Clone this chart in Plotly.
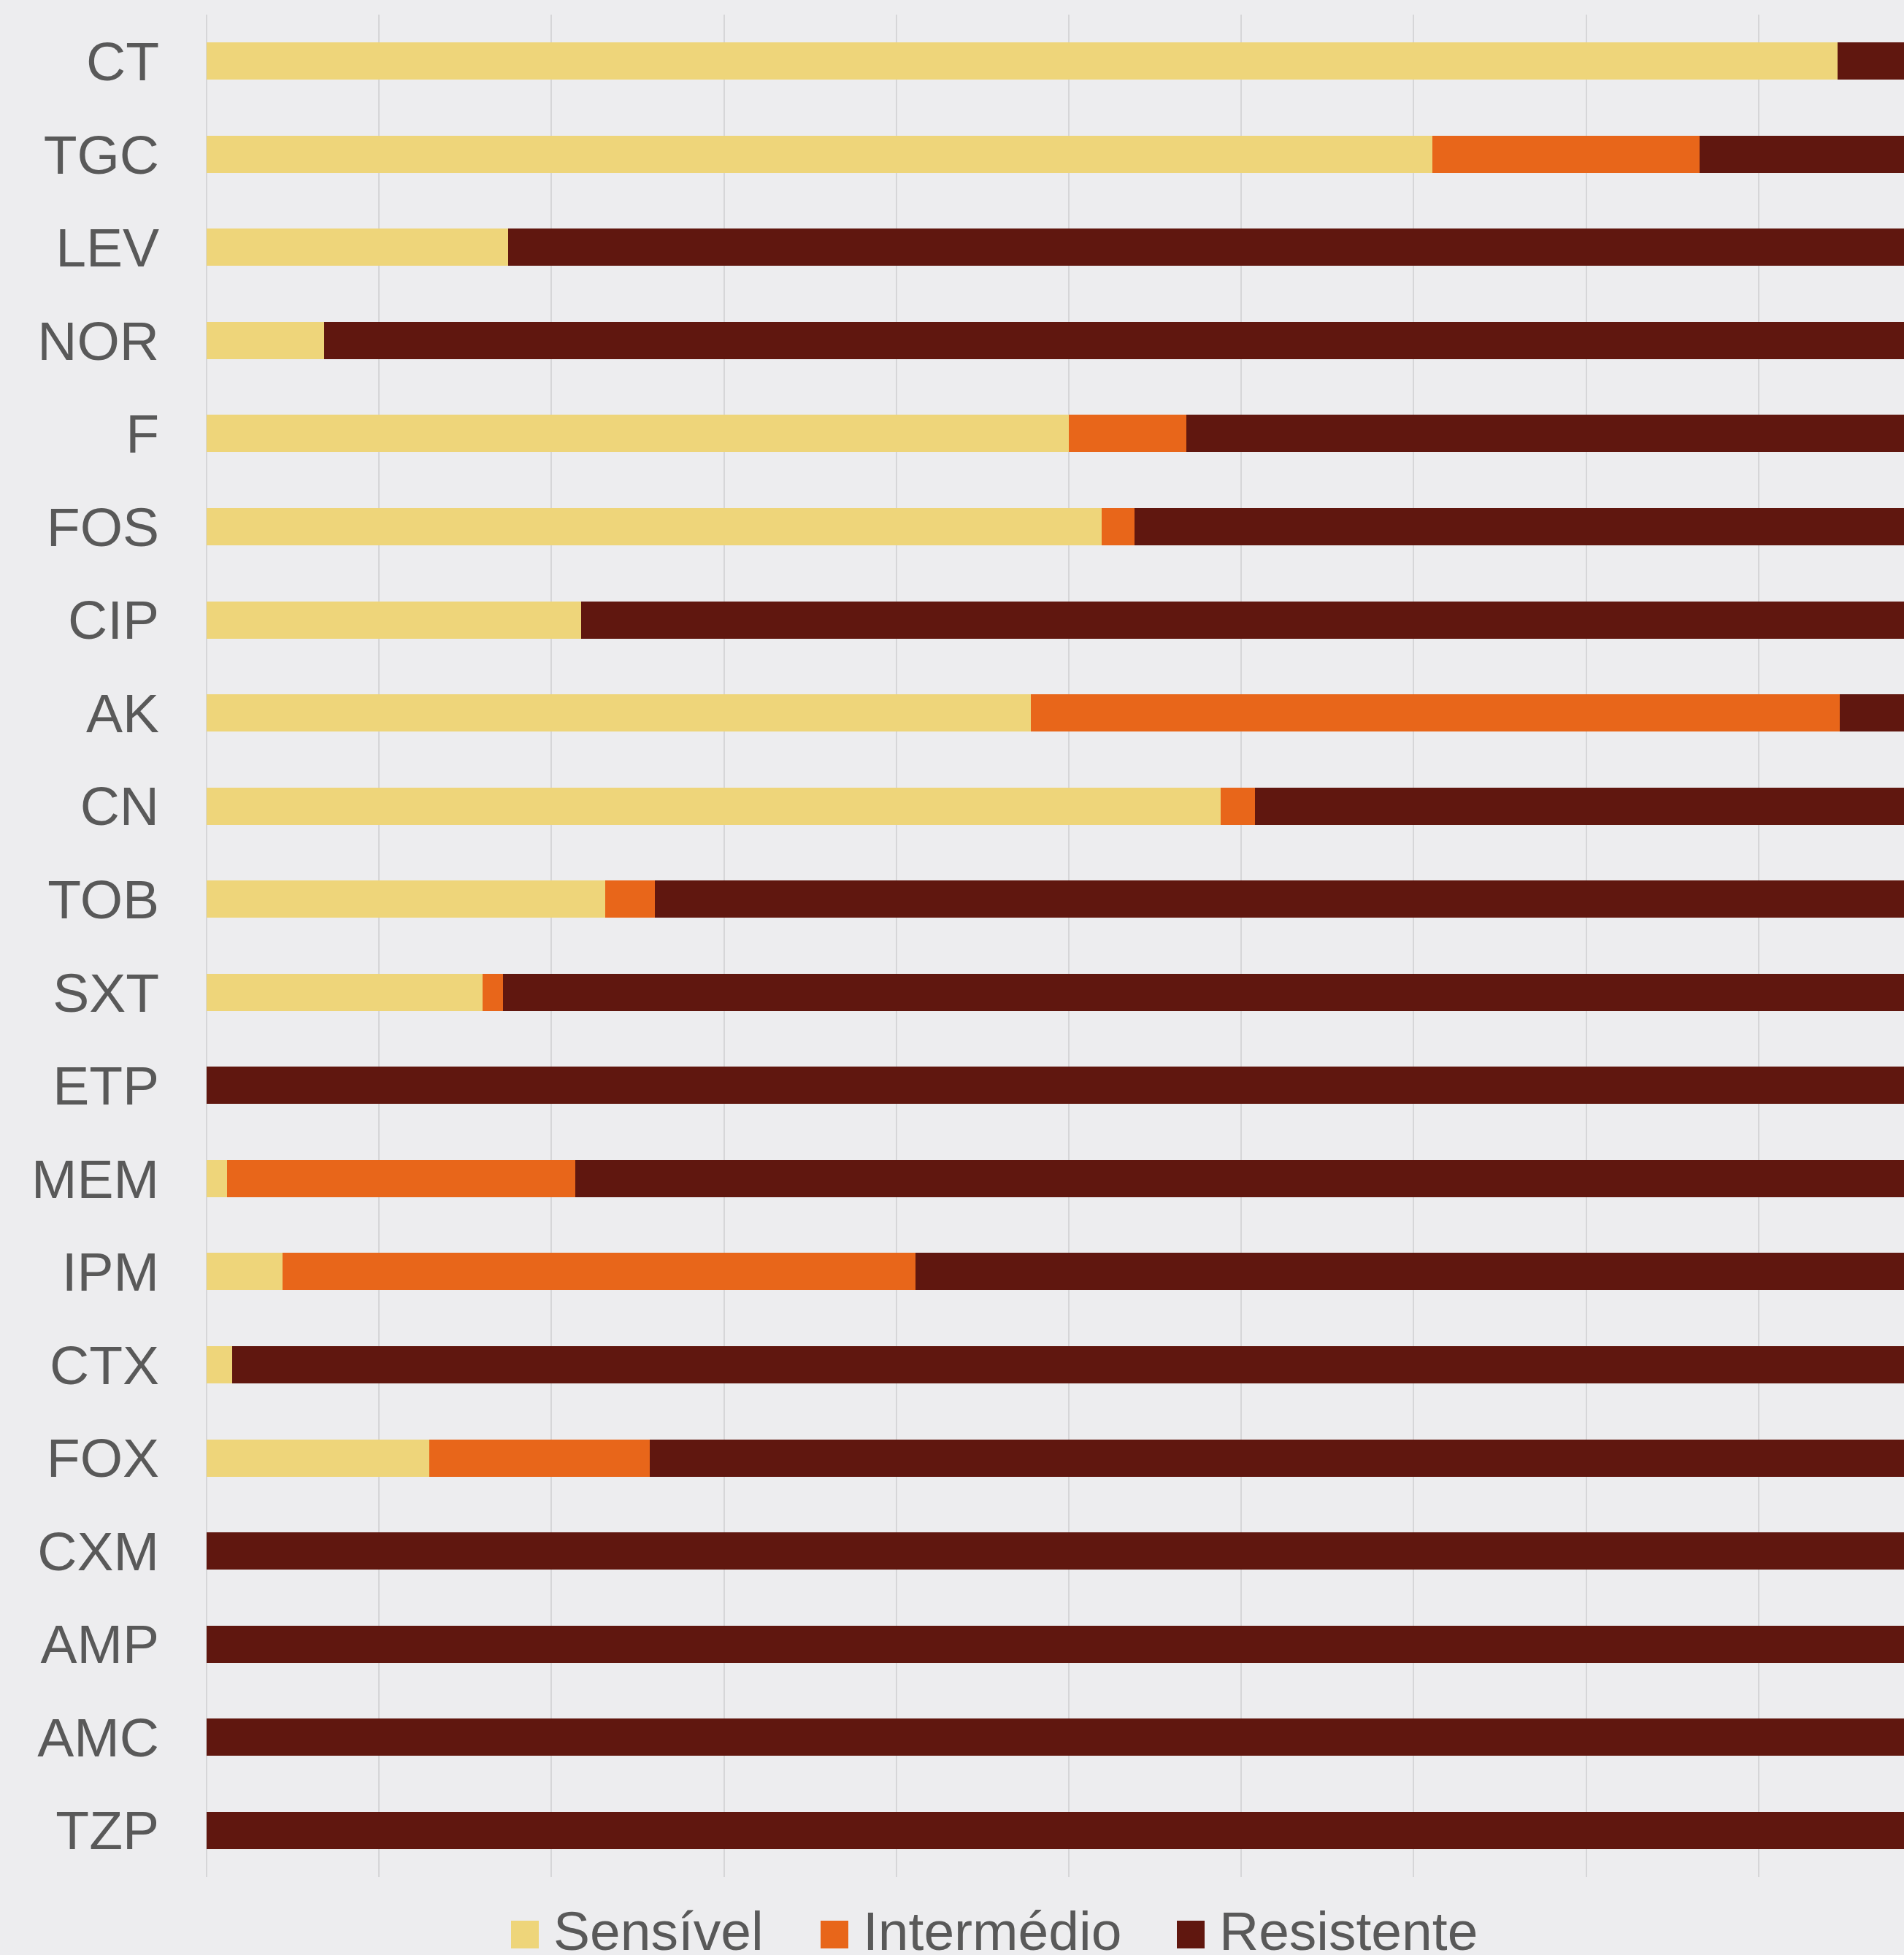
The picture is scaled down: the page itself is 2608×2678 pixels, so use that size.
import plotly.graph_objects as go

categories = ["CT", "TGC", "LEV", "NOR", "F", "FOS", "CIP", "AK", "CN", "TOB",
              "SXT", "ETP", "MEM", "IPM", "CTX", "FOX", "CXM", "AMP", "AMC", "TZP"]
sensivel = [94.6, 71.1, 17.5, 6.8, 50.0, 51.9, 21.7, 47.8, 58.8, 23.1,
            16.0, 0.0, 1.2, 4.4, 1.5, 12.9, 0.0, 0.0, 0.0, 0.0]
intermedio = [0.0, 15.5, 0.0, 0.0, 6.8, 1.9, 0.0, 46.9, 2.0, 2.9,
              1.2, 0.0, 20.2, 36.7, 0.0, 12.8, 0.0, 0.0, 0.0, 0.0]
resistente = [5.4, 13.4, 82.5, 93.2, 43.2, 46.2, 78.3, 5.3, 39.2, 74.0,
              82.8, 100.0, 78.6, 58.9, 98.5, 74.3, 100.0, 100.0, 100.0, 100.0]

series_names = ["Sensível", "Intermédio", "Resistente"]
series_values = [sensivel, intermedio, resistente]
colors = ["#EED57A", "#E8661A", "#60170F"]

W, H = 2608, 2678
L, R, T, B = 283, 0, 20, 107
PW, PH = W - L - R, H - T - B
TEXT = "#595959"
FONT = "Liberation Sans, Arial, sans-serif"
FS = 75


def px_x(p):
    return (p - L) / PW


def px_y(p):
    return (H - B - p) / PH


fig = go.Figure()
for name, vals, col in zip(series_names, series_values, colors):
    fig.add_trace(go.Bar(
        y=categories, x=vals, name=name, orientation="h",
        marker=dict(color=col, line=dict(width=0)),
        showlegend=False,
    ))

# legend: square swatches + labels placed below the plot
swatch_x = [700, 1124, 1612]
label_x = [758, 1182, 1670]
shapes = []
annotations = []
for name, col, sx, lx in zip(series_names, colors, swatch_x, label_x):
    shapes.append(dict(type="rect", xref="paper", yref="paper",
                       x0=px_x(sx), x1=px_x(sx + 38),
                       y0=px_y(2669), y1=px_y(2631),
                       fillcolor=col, line=dict(width=0)))
    annotations.append(dict(text=name, xref="paper", yref="paper",
                            x=px_x(lx - 2), y=px_y(2645), xanchor="left",
                            yanchor="middle", showarrow=False,
                            font=dict(family=FONT, size=FS, color=TEXT)))

xmax = PW / 23.62

fig.update_layout(
    width=W, height=H,
    margin=dict(l=L, r=R, t=T, b=B, pad=0),
    paper_bgcolor="#EDEDEF",
    plot_bgcolor="rgba(0,0,0,0)",
    barmode="stack",
    bargap=0.6,
    showlegend=False,
    font=dict(family=FONT, size=FS, color=TEXT),
    xaxis=dict(range=[0, xmax], dtick=10, tick0=0, showgrid=True,
               gridcolor="#D6D6D8", gridwidth=2, zeroline=True,
               zerolinecolor="#D6D6D8", zerolinewidth=2,
               showticklabels=False, ticks="", showline=False, fixedrange=True),
    yaxis=dict(categoryorder="array", categoryarray=categories,
               autorange="reversed", showgrid=False, zeroline=False,
               ticks="", ticklabelstandoff=64,
               tickfont=dict(family=FONT, size=FS, color=TEXT)),
    shapes=shapes,
    annotations=annotations,
)

fig.write_html("out.html",
               config={"displayModeBar": False},
               post_script="document.body.style.margin='0';"
                           "document.body.style.overflow='hidden';")
